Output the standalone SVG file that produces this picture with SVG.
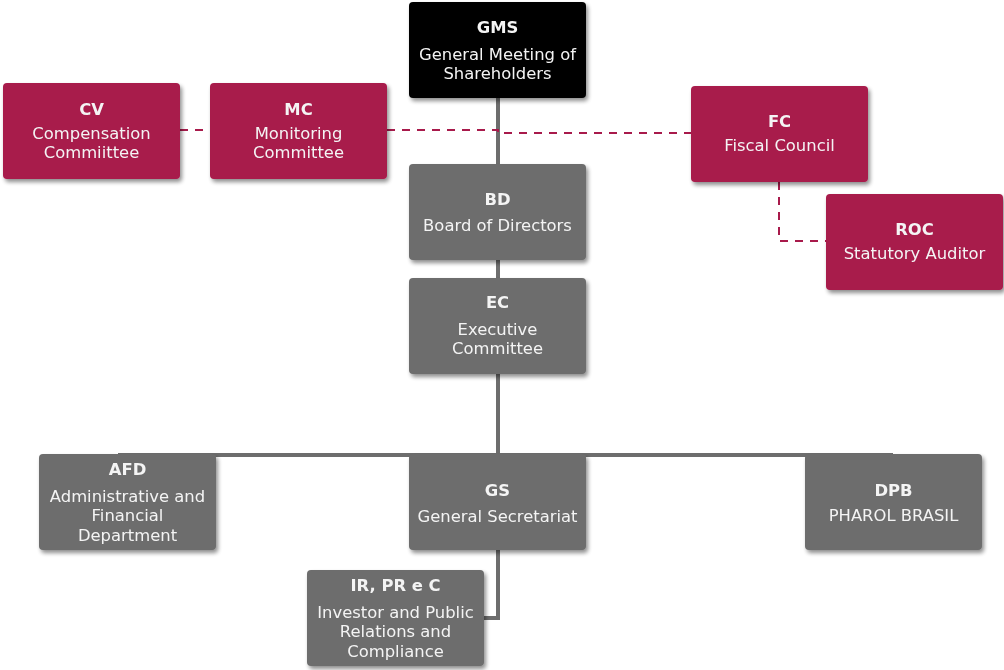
<svg xmlns="http://www.w3.org/2000/svg" width="1004" height="670" viewBox="0 0 1004 670">
<defs>
<filter id="sh" x="-10%" y="-10%" width="125%" height="130%">
<feGaussianBlur in="SourceAlpha" stdDeviation="2"/>
<feOffset dx="2" dy="3" result="b"/>
<feComponentTransfer><feFuncA type="linear" slope="0.45"/></feComponentTransfer>
<feMerge><feMergeNode/><feMergeNode in="SourceGraphic"/></feMerge>
</filter>
</defs>
<style>
.box{filter:url(#sh)}
.red{fill:#A81A4B}
.gray{fill:#6D6D6D}
.blk{fill:#000}
text{font-family:"DejaVu Sans","Verdana",sans-serif;font-size:16.4px;fill:#F4F4F4;text-anchor:middle}
.t{font-weight:bold}
.solid{stroke:#6D6D6D;stroke-width:4;fill:none}
.dash{stroke:#A81A4B;stroke-width:2;stroke-dasharray:8,7;fill:none}
</style>
<rect width="1004" height="670" fill="#fff"/>
<g id="connectors">
<line class="solid" x1="498" y1="98" x2="498" y2="456"/>
<line class="solid" x1="118" y1="455" x2="893" y2="455"/>
<polyline class="solid" points="498,550 498,618 484,618"/>
<line class="dash" x1="180" y1="130" x2="210" y2="130"/>
<polyline class="dash" points="387,130 498,130 498,133 691,133"/>
<polyline class="dash" points="779,182 779,241 826,241"/>
</g>
<g id="GMS" class="box"><rect class="blk" x="409" y="2" width="177" height="96" rx="4"/>
<text class="t" x="497.5" y="33">GMS</text><text x="497.5" y="60">General Meeting of</text><text x="497.5" y="79">Shareholders</text></g>
<g id="CV" class="box"><rect class="red" x="3" y="83" width="177" height="96" rx="4"/>
<text class="t" x="91.5" y="115">CV</text><text x="91.5" y="139">Compensation</text><text x="91.5" y="158">Commiittee</text></g>
<g id="MC" class="box"><rect class="red" x="210" y="83" width="177" height="96" rx="4"/>
<text class="t" x="298.5" y="115">MC</text><text x="298.5" y="139">Monitoring</text><text x="298.5" y="158">Committee</text></g>
<g id="FC" class="box"><rect class="red" x="691" y="86" width="177" height="96" rx="4"/>
<text class="t" x="779.5" y="127">FC</text><text x="779.5" y="151">Fiscal Council</text></g>
<g id="ROC" class="box"><rect class="red" x="826" y="194" width="177" height="96" rx="4"/>
<text class="t" x="914.5" y="235">ROC</text><text x="914.5" y="259">Statutory Auditor</text></g>
<g id="BD" class="box"><rect class="gray" x="409" y="164" width="177" height="96" rx="4"/>
<text class="t" x="497.5" y="205">BD</text><text x="497.5" y="231">Board of Directors</text></g>
<g id="EC" class="box"><rect class="gray" x="409" y="278" width="177" height="96" rx="4"/>
<text class="t" x="497.5" y="308">EC</text><text x="497.5" y="335">Executive</text><text x="497.5" y="354">Committee</text></g>
<g id="AFD" class="box"><rect class="gray" x="39" y="454" width="177" height="96" rx="4"/>
<text class="t" x="127.5" y="475">AFD</text><text x="127.5" y="502">Administrative and</text><text x="127.5" y="521">Financial</text><text x="127.5" y="541">Department</text></g>
<g id="GS" class="box"><rect class="gray" x="409" y="454" width="177" height="96" rx="4"/>
<text class="t" x="497.5" y="496">GS</text><text x="497.5" y="522">General Secretariat</text></g>
<g id="DPB" class="box"><rect class="gray" x="805" y="454" width="177" height="96" rx="4"/>
<text class="t" x="893.5" y="496">DPB</text><text x="893.5" y="521">PHAROL BRASIL</text></g>
<g id="IR" class="box"><rect class="gray" x="307" y="570" width="177" height="96" rx="4"/>
<text class="t" x="395.5" y="591">IR, PR e C</text><text x="395.5" y="618">Investor and Public</text><text x="395.5" y="637">Relations and</text><text x="395.5" y="657">Compliance</text></g>
</svg>
